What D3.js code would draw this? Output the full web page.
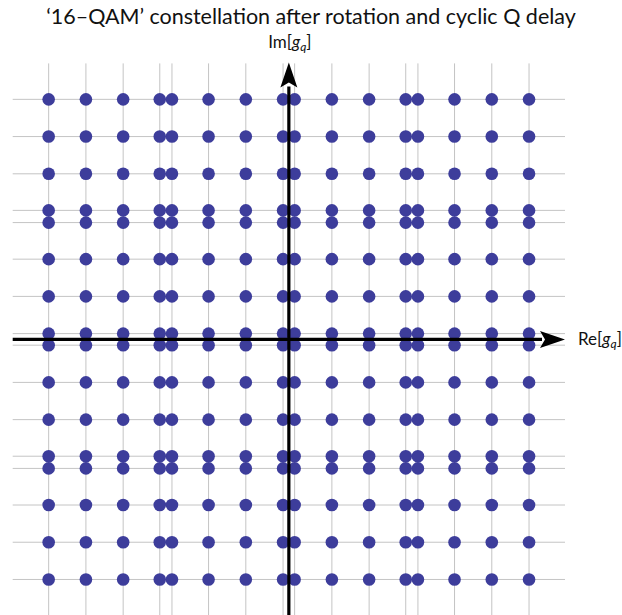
<!DOCTYPE html>
<html>
<head>
<meta charset="utf-8">
<script src="https://cdn.jsdelivr.net/npm/d3@7"></script>
<style>
  html, body { margin: 0; padding: 0; background: #fff; }
  svg { display: block; font-family: Lato, "Open Sans", sans-serif; }
</style>
</head>
<body>
<script>
// In-phase levels of the rotated 16-QAM symbols (16 distinct values)
const iLevels = [-3.74, -3.16, -2.58, -2.01, -1.82, -1.25, -0.67, -0.09,
                  0.09,  0.67,  1.25,  1.82,  2.01,  2.58,  3.16,  3.74];
// Quadrature levels after the cyclic Q delay (same set of values)
const qLevels = [-3.74, -3.16, -2.58, -2.01, -1.82, -1.25, -0.67, -0.09,
                  0.09,  0.67,  1.25,  1.82,  2.01,  2.58,  3.16,  3.74];
const axisRange = [-4.3, 4.3];
const titleText = "‘16–QAM’ constellation after rotation and cyclic Q delay";

const W = 622, H = 615;
const plot = { left: 12.7, right: 565, top: 63.4, bottom: 615.4 };

const svg = d3.select("body").append("svg")
  .attr("width", W).attr("height", H);

const x = d3.scaleLinear().domain(axisRange).range([plot.left, plot.right]);
const y = d3.scaleLinear().domain(axisRange).range([plot.bottom, plot.top]);

// Grid lines at every I and Q level
const grid = svg.append("g").attr("stroke", "#c4c4c4").attr("stroke-width", 1);
grid.selectAll("line.v").data(iLevels).join("line")
  .attr("class", "v")
  .attr("x1", d => x(d)).attr("x2", d => x(d))
  .attr("y1", plot.top).attr("y2", plot.bottom);
grid.selectAll("line.h").data(qLevels).join("line")
  .attr("class", "h")
  .attr("y1", d => y(d)).attr("y2", d => y(d))
  .attr("x1", plot.left).attr("x2", plot.right);

// Constellation points: every (I, Q) combination
const points = d3.cross(iLevels, qLevels);
svg.append("g").attr("fill", "#3d3d9b")
  .selectAll("circle").data(points).join("circle")
  .attr("cx", d => x(d[0]))
  .attr("cy", d => y(d[1]))
  .attr("r", 6.3);

// Axes with arrowheads
const axes = svg.append("g");
const x0 = x(0), y0 = y(0);
const headLen = 25, headHalf = 8.5;
axes.append("line")
  .attr("x1", plot.left).attr("x2", plot.right - headLen + 2)
  .attr("y1", y0).attr("y2", y0)
  .attr("stroke", "#000").attr("stroke-width", 3.2);
axes.append("path")
  .attr("d", `M${plot.right},${y0} L${plot.right - headLen},${y0 - headHalf} L${plot.right - headLen + 5},${y0} L${plot.right - headLen},${y0 + headHalf} Z`)
  .attr("fill", "#000");
axes.append("line")
  .attr("x1", x0).attr("x2", x0)
  .attr("y1", plot.bottom).attr("y2", plot.top + headLen - 2)
  .attr("stroke", "#000").attr("stroke-width", 3.2);
axes.append("path")
  .attr("d", `M${x0},${plot.top - 1} L${x0 - headHalf},${plot.top - 1 + headLen} L${x0},${plot.top - 1 + headLen - 5} L${x0 + headHalf},${plot.top - 1 + headLen} Z`)
  .attr("fill", "#000");

// Axis labels
function axisLabel(sel, prefix) {
  sel.append("tspan").text(prefix + "[");
  sel.append("tspan").attr("font-style", "italic").text("g");
  sel.append("tspan").attr("font-style", "italic").attr("font-size", 12)
    .attr("dy", 3).text("q");
  sel.append("tspan").attr("dy", -3).text("]");
}
const reLabel = svg.append("text")
  .attr("x", 578).attr("y", y0 + 5.5)
  .attr("font-size", 17).attr("fill", "#111");
axisLabel(reLabel, "Re");
const imLabel = svg.append("text")
  .attr("x", x0 + 1).attr("y", 48)
  .attr("text-anchor", "middle")
  .attr("font-size", 17).attr("fill", "#111");
axisLabel(imLabel, "Im");

// Title
svg.append("text")
  .attr("x", 311).attr("y", 24)
  .attr("text-anchor", "middle")
  .attr("font-size", 21.5).attr("fill", "#111")
  .text(titleText);
</script>
</body>
</html>
